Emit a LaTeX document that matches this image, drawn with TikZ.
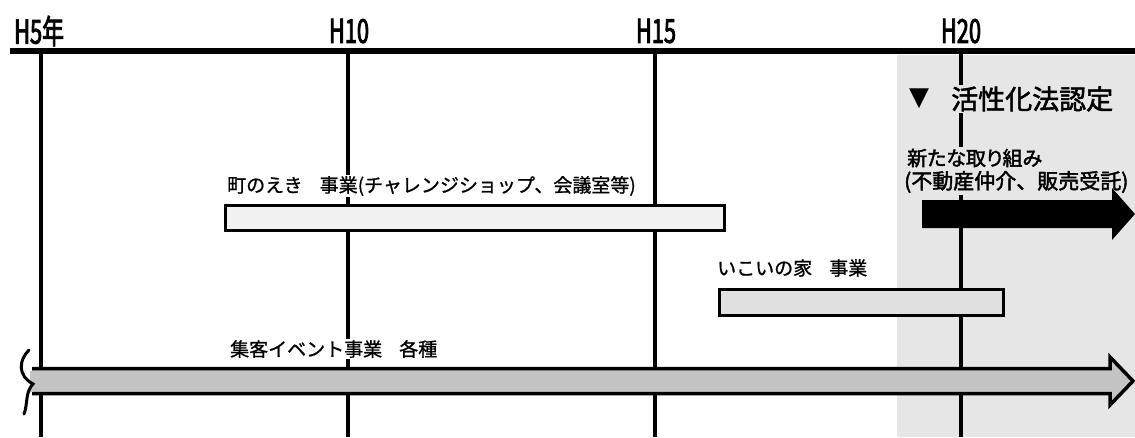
\documentclass[tikz,border=0pt]{standalone}
\usepackage{fontspec}
\newfontfamily\jp[FakeBold=1]{Noto Sans CJK JP}
\newfontfamily\jpp[RawFeature=+palt,FakeBold=2]{Noto Sans CJK JP}
\newfontfamily\jpb[FakeBold=2]{Noto Sans CJK JP}
\newfontfamily\yr[FakeStretch=0.66,FakeBold=2.5]{Noto Sans CJK JP}
\newfontfamily\sym{DejaVu Sans}
\definecolor{shadecol}{HTML}{E6E6E6}
\definecolor{boxA}{HTML}{F1F1F1}
\definecolor{boxB}{HTML}{E0E0E0}
\definecolor{arrC}{HTML}{C4C4C4}
\tikzset{
  axis/.style={line width=6pt},
  tick/.style={line width=4.5pt},
  yearlbl/.style={font=\yr\fontsize{33}{33}\selectfont, inner sep=0pt},
  bar/.style={draw=black, line width=3.5pt, inner sep=0pt},
  lbl/.style={font=\jp\fontsize{19}{19}\selectfont, inner sep=1pt, anchor=west, fill=white},
  lblS/.style={inner sep=2pt, anchor=west, fill=shadecol},
  bigarrow/.style={draw=black, line width=3.5pt, line join=miter},
}
\begin{document}
\begin{tikzpicture}[x=1pt,y=-1pt]
\useasboundingbox (0,0) rectangle (1135,437);
% shaded period
\fill[shadecol] (897,55) rectangle (1135,437);
% axis
\coordinate (axL) at (10,51);
\coordinate (axR) at (1135,51);
\draw[axis] (axL) -- (axR);
% ticks
\foreach \n/\x in {5/41,10/348,15/655,20/961}{
  \coordinate (t\n top) at (\x,51);
  \coordinate (t\n bot) at (\x,437);
  \draw[tick] (t\n top) -- (t\n bot);
}
% year labels
\node[yearlbl, anchor=west] (y5) at (14,31) {H5年};
\node[yearlbl] (y10) at (349,31) {H10};
\node[yearlbl] (y15) at (656,31) {H15};
\node[yearlbl] (y20) at (961,31) {H20};
% law marker
\node[lblS, anchor=center, font=\sym\fontsize{26}{26}\selectfont, inner sep=1pt] (tri) at (919,99) {▼};
\node[lblS, font=\jpb\fontsize{27}{27}\selectfont] (law) at (949,99) {活性化法認定};
% new initiative
\node[lblS, font=\jpp\fontsize{20}{20}\selectfont] (new1) at (905,158) {新たな取り組み};
\node[lblS, font=\jpb\fontsize{21}{21}\selectfont] (new2) at (902,182) {(不動産仲介、販売受託)};
\fill[black] (922,200) -- (1112,200) -- (1112,188) -- (1135,214) -- (1112,240) -- (1112,228) -- (922,228) -- cycle;
% machi no eki
\node[lbl] (machiL) at (226,186) {町のえき\hspace{0.9em}事業(チャレンジショップ、会議室等)};
\node[bar, fill=boxA, minimum width=499pt, minimum height=25pt] (machi) at (475,218) {};
% ikoi no ie
\node[lbl] (ikoiL) at (716,268) {いこいの家\hspace{0.9em}事業};
\node[bar, fill=boxB, minimum width=284pt, minimum height=26pt] (ikoi) at (861.5,302.5) {};
% events arrow
\node[lbl] (eventL) at (229,349) {集客イベント事業\hspace{0.9em}各種};
\draw[bigarrow, fill=arrC] (32,368.5) -- (1110,368.5) -- (1110,357) -- (1133,381) -- (1110,405) -- (1110,393.5) -- (32,393.5);
\fill[arrC] (30,370.5) rectangle (34,391.5);
% break mark
\draw[line width=3pt, line cap=round] (29,350) .. controls (19,360) and (17,375) .. (33,384) .. controls (25,392) and (28,404) .. (24,414);
\end{tikzpicture}
\end{document}
